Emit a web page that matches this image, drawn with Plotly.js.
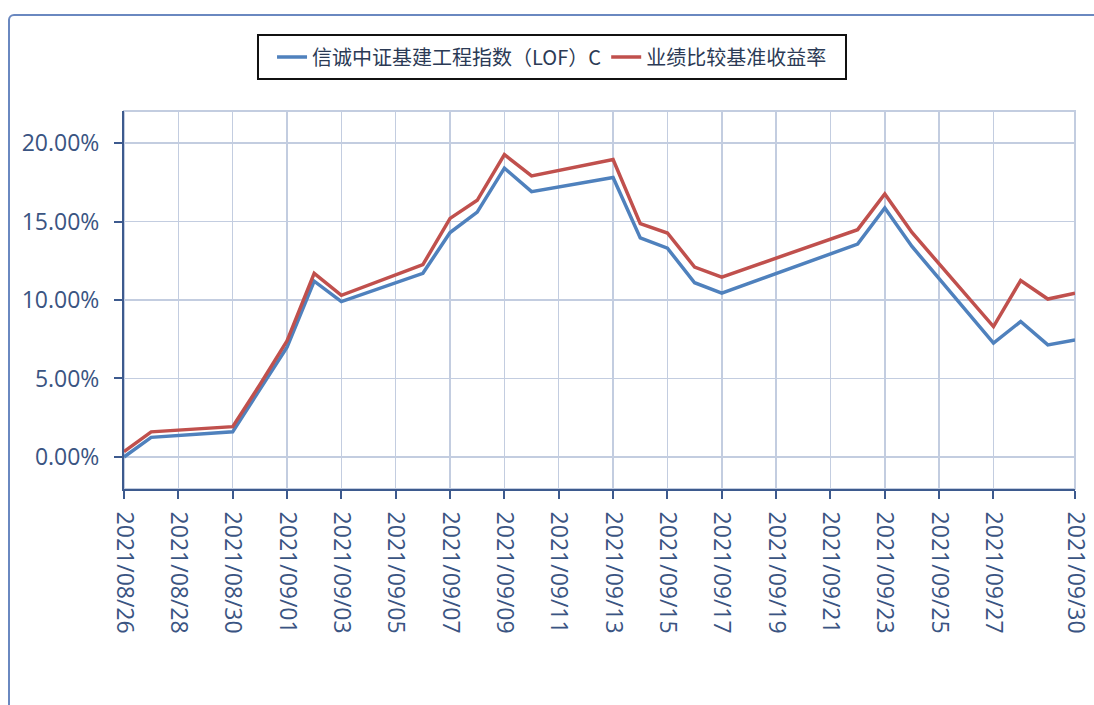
<!DOCTYPE html>
<html>
<head>
<meta charset="utf-8">
<script src="https://cdn.plot.ly/plotly-3.0.1.min.js"></script>
<style>
html,body{margin:0;padding:0;background:#fff;overflow:hidden;}
#chart{position:absolute;left:0;top:0;width:1094px;height:705px;}
#frame{position:absolute;left:8px;top:14px;width:1110px;height:720px;border:2px solid #6a88c0;border-radius:6px;pointer-events:none;box-sizing:border-box;}
</style>
</head>
<body>
<div id="chart"></div>
<div id="frame"></div>
<script>
var dates = ["2021-08-26","2021-08-27","2021-08-30","2021-08-31","2021-09-01","2021-09-02","2021-09-03","2021-09-06","2021-09-07","2021-09-08","2021-09-09","2021-09-10","2021-09-13","2021-09-14","2021-09-15","2021-09-16","2021-09-17","2021-09-22","2021-09-23","2021-09-24","2021-09-27","2021-09-28","2021-09-29","2021-09-30"];
var fundReturn = [0.0,1.25,1.6,4.3,7.0,11.2,9.9,11.7,14.3,15.6,18.4,16.9,17.8,13.95,13.3,11.1,10.44,13.56,15.86,13.41,7.25,8.63,7.14,7.46];
var benchReturn = [0.34,1.6,1.93,4.6,7.4,11.7,10.3,12.25,15.2,16.35,19.26,17.9,18.95,14.86,14.27,12.1,11.46,14.48,16.75,14.3,8.31,11.24,10.06,10.44];
var seriesNames = ["信诚中证基建工程指数（LOF）C","业绩比较基准收益率"];
var xTickVals = ["2021-08-26","2021-08-28","2021-08-30","2021-09-01","2021-09-03","2021-09-05","2021-09-07","2021-09-09","2021-09-11","2021-09-13","2021-09-15","2021-09-17","2021-09-19","2021-09-21","2021-09-23","2021-09-25","2021-09-27","2021-09-30"];
var xTickText = ["2021/08/26","2021/08/28","2021/08/30","2021/09/01","2021/09/03","2021/09/05","2021/09/07","2021/09/09","2021/09/11","2021/09/13","2021/09/15","2021/09/17","2021/09/19","2021/09/21","2021/09/23","2021/09/25","2021/09/27","2021/09/30"];
var yTickVals = [0,5,10,15,20];
var yTickText = ["0.00%","5.00%","10.00%","15.00%","20.00%"];

var gridColor = "#c3cde0";
var axisColor = "#3d5a8e";
var tickFont = {family:"Open Sans, Noto Sans, sans-serif", size:23, color:"#3a5482"};

var traces = [
  {x:dates, y:fundReturn, name:seriesNames[0], type:"scatter", mode:"lines", line:{color:"#4f81bd", width:3.5}},
  {x:dates, y:benchReturn, name:seriesNames[1], type:"scatter", mode:"lines", line:{color:"#c0504d", width:3.5}}
];

var layout = {
  width:1094, height:705,
  margin:{l:124, r:19, t:111, b:216, pad:0},
  paper_bgcolor:"#ffffff", plot_bgcolor:"#ffffff",
  showlegend:true,
  legend:{orientation:"h", xref:"container", yref:"container", x:0.5046, y:0.919, xanchor:"center", yanchor:"middle",
    bgcolor:"rgba(0,0,0,0)", borderwidth:0,
    font:{family:"Noto Sans CJK SC, sans-serif", size:20, color:"#2b3a55"}},
  xaxis:{type:"date", range:["2021-08-26","2021-09-30"], tickmode:"array", tickvals:xTickVals, ticktext:xTickText,
    tickangle:90, tickfont:tickFont, ticks:"outside", ticklen:8, tickwidth:2, tickcolor:axisColor,
    showline:true, linecolor:axisColor, linewidth:2, showgrid:true, gridcolor:gridColor, gridwidth:1.5,
    zeroline:false, ticklabelstandoff:8},
  yaxis:{range:[-2.04,22.04], tickmode:"array", tickvals:yTickVals, ticktext:yTickText,
    tickfont:tickFont, ticks:"outside", ticklen:8, tickwidth:2, tickcolor:axisColor,
    showline:true, linecolor:axisColor, linewidth:2, showgrid:true, gridcolor:gridColor, gridwidth:1.5,
    zeroline:false, ticklabelstandoff:10},
  shapes:[
    {type:"rect", xref:"paper", yref:"paper", x0:0, x1:1, y0:0, y1:1, line:{color:gridColor, width:2}, layer:"below"},
    {type:"rect", xref:"paper", yref:"paper", x0:0.1409, x1:0.7592, y0:1.0847, y1:1.2011, line:{color:"#111111", width:2}, fillcolor:"rgba(0,0,0,0)"}
  ]
};

Plotly.newPlot("chart", traces, layout, {displayModeBar:false, staticPlot:true});
</script>
</body>
</html>
